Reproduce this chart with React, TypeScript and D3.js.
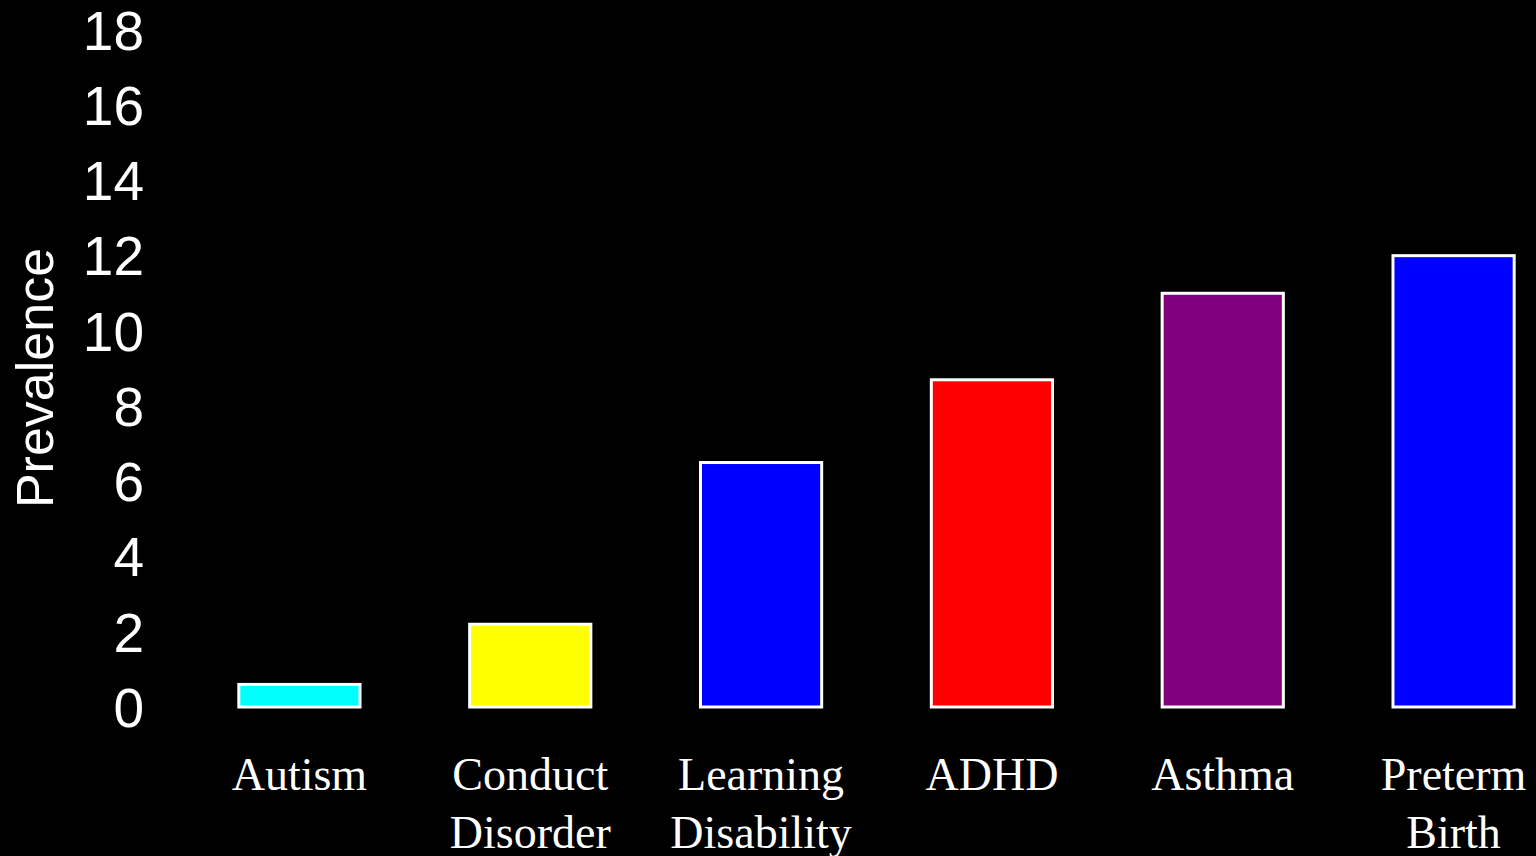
import React from "react";
import * as d3 from "d3";

const categories: string[][] = [
  ["Autism"],
  ["Conduct", "Disorder"],
  ["Learning", "Disability"],
  ["ADHD"],
  ["Asthma"],
  ["Preterm", "Birth"],
];
const values: number[] = [0.6, 2.2, 6.5, 8.7, 11.0, 12.0];
const colors: string[] = ["#00ffff", "#ffff00", "#0000ff", "#ff0000", "#800080", "#0000ff"];
const yTicks: number[] = [0, 2, 4, 6, 8, 10, 12, 14, 16, 18];
const yLabel = "Prevalence";

const W = 1536;
const H = 856;

export default function App() {
  const keys = categories.map((c) => c.join(" "));
  const x = d3
    .scaleBand<string>()
    .domain(keys)
    .range([184, 1569])
    .paddingInner(0.475)
    .paddingOuter(0.2375);
  const y = d3.scaleLinear().domain([0, 18]).range([707, 30]);

  return (
    <svg
      width={W}
      height={H}
      style={{ position: "fixed", left: 0, top: 0, background: "#000", display: "block" }}
    >
      <rect x={0} y={0} width={W} height={H} fill="#000" />
      {yTicks.map((t) => (
        <text
          key={t}
          x={144}
          y={y(t)}
          dy="0.36em"
          textAnchor="end"
          fill="#fff"
          fontFamily="Liberation Sans, Arial, sans-serif"
          fontSize={55}
        >
          {t}
        </text>
      ))}
      <text
        transform={`translate(53,378) rotate(-90)`}
        textAnchor="middle"
        fill="#fff"
        fontFamily="Liberation Sans, Arial, sans-serif"
        fontSize={52}
      >
        {yLabel}
      </text>
      {values.map((v, i) => (
        <rect
          key={keys[i]}
          x={x(keys[i])!}
          y={y(v)}
          width={x.bandwidth()}
          height={y(0) - y(v)}
          fill={colors[i]}
          stroke="#fff"
          strokeWidth={3}
        />
      ))}
      {categories.map((lines, i) => (
        <text
          key={keys[i]}
          x={x(keys[i])! + x.bandwidth() / 2}
          y={790}
          textAnchor="middle"
          fill="#fff"
          fontFamily="Liberation Serif, Times New Roman, serif"
          fontSize={46}
        >
          {lines.map((l, j) => (
            <tspan key={j} x={x(keys[i])! + x.bandwidth() / 2} dy={j === 0 ? 0 : 58}>
              {l}
            </tspan>
          ))}
        </text>
      ))}
    </svg>
  );
}
